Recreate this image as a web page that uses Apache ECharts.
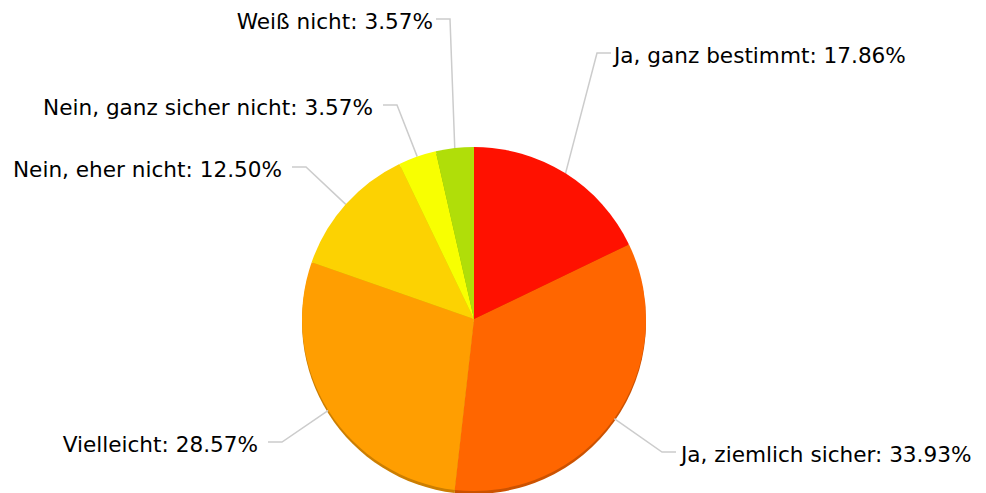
<!DOCTYPE html>
<html>
<head>
<meta charset="utf-8">
<style>
  html, body { margin: 0; padding: 0; background: #fff; }
  #chart { width: 986px; height: 493px; }
</style>
<script src="https://cdn.jsdelivr.net/npm/echarts@6/dist/echarts.min.js"></script>
</head>
<body>
<div id="chart"></div>
<script>
var categories = ['Ja, ganz bestimmt', 'Ja, ziemlich sicher', 'Vielleicht', 'Nein, eher nicht', 'Nein, ganz sicher nicht', 'Weiß nicht'];
var shares = [17.86, 33.93, 28.57, 12.50, 3.57, 3.57];
var colors = ['#ff1100', '#ff6600', '#ff9e01', '#fcd202', '#f8ff01', '#b0de09'];
var shadeColors = ['#c90d00', '#cc5200', '#cc7e01', '#c9a802', '#c6cc01', '#8cb107'];

// label layout: where each leader line turns horizontal, and text gap after it
var elbows = [[597, 53], [662, 452], [282, 442], [306, 167], [397, 105], [450, 19]];
var gaps = [3, 5, 10, 10, 10, 3];
var tail = 14;

var chart = echarts.init(document.getElementById('chart'), null, { renderer: 'svg' });

var mainData = categories.map(function(name, i) {
  return { name: name, value: shares[i], itemStyle: { color: colors[i] } };
});
var shadeData = categories.map(function(name, i) {
  return { name: name, value: shares[i], itemStyle: { color: shadeColors[i] } };
});

chart.setOption({
  animation: false,
  backgroundColor: '#fff',
  series: [{
    // bottom depth edge
    type: 'pie',
    silent: true,
    radius: 172,
    center: [474, 322],
    startAngle: 90,
    label: { show: false },
    labelLine: { show: false },
    data: shadeData,
    z: 1
  }, {
    type: 'pie',
    radius: 172,
    center: [474, 319],
    startAngle: 90,
    data: mainData,
    z: 2,
    label: {
      show: true,
      color: '#000',
      fontFamily: 'DejaVu Sans',
      fontSize: 21.6,
      formatter: function(p) { return p.name + ': ' + p.value.toFixed(2) + '%'; }
    },
    labelLine: {
      show: true,
      length: 30,
      length2: 10,
      lineStyle: { color: '#cccccc', width: 1.5 }
    },
    labelLayout: function(params) {
      var i = params.dataIndex;
      var e = elbows[i];
      var right = e[0] > 474;
      var dir = right ? 1 : -1;
      var start = params.labelLinePoints ? params.labelLinePoints[0] : e;
      return {
        x: e[0] + dir * (tail + gaps[i]),
        y: e[1] + 2,
        align: right ? 'left' : 'right',
        verticalAlign: 'middle',
        labelLinePoints: [start, e, [e[0] + dir * tail, e[1]]]
      };
    }
  }]
});
</script>
</body>
</html>
